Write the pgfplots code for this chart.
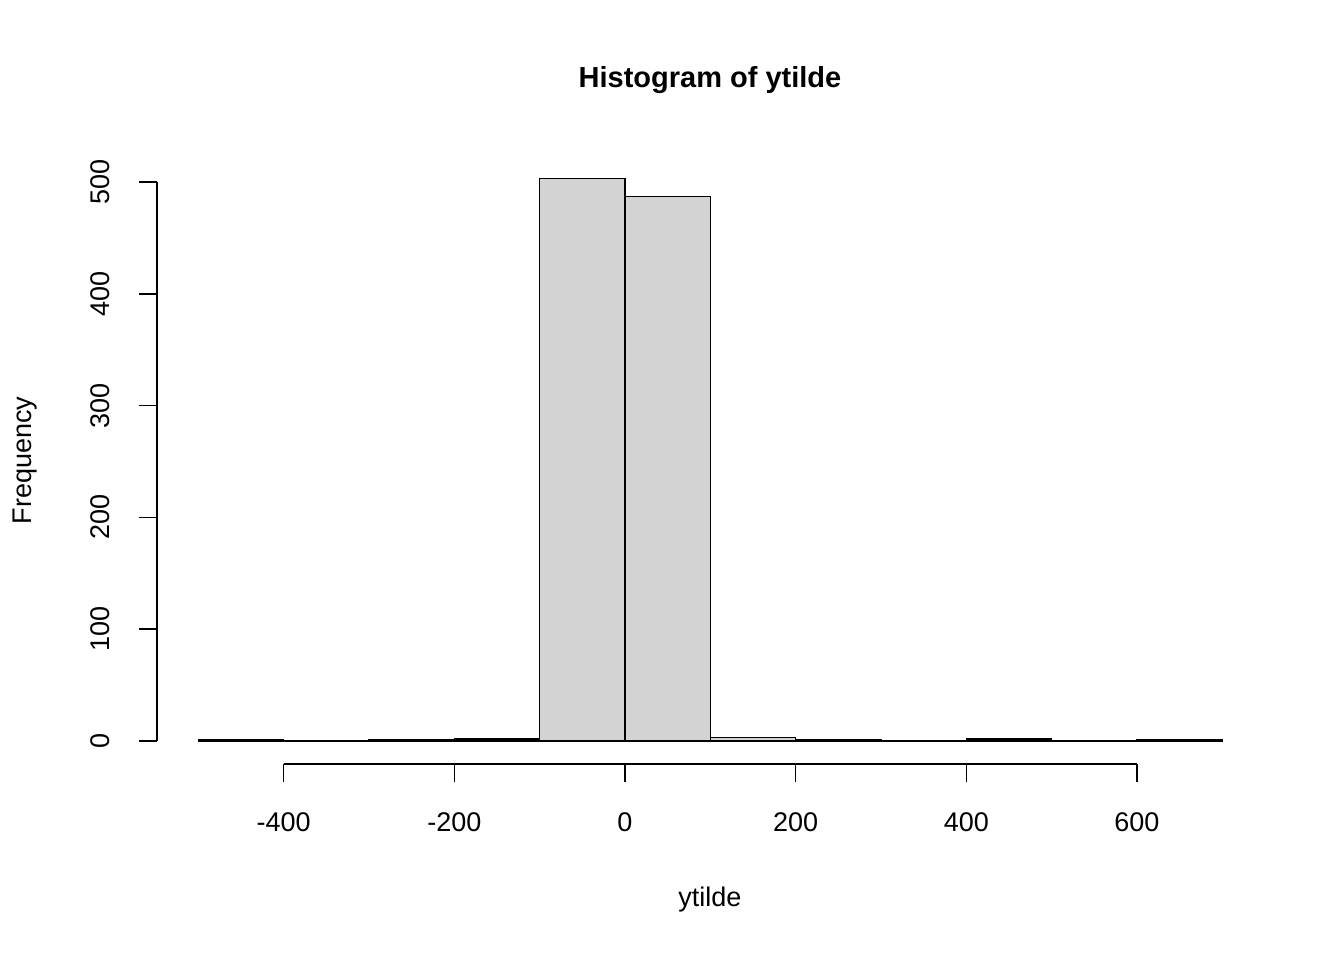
\documentclass[border=0pt]{standalone}
\usepackage{pgfplots}
\pgfplotsset{compat=1.18}
\usepackage{fontspec}
\setmainfont{Liberation Sans}
\definecolor{bargray}{RGB}{211,211,211}
\begin{document}
\begin{tikzpicture}
\begin{axis}[scale only axis, width=672pt, height=480pt,
  xmin=-732.4, xmax=842.6, ymin=-195.9, ymax=662.8,
  axis lines=none, clip=false, font=\fontsize{13.5}{16}\selectfont]
\path (axis cs:-732.4,-195.9) rectangle (axis cs:842.6,662.8);
\addplot[ybar interval, fill=bargray, draw=black, line width=0.75pt] coordinates {
(-500,1)(-400,0)(-300,1)(-200,2)(-100,503)(0,487)(100,3)(200,1)(300,0)(400,2)(500,0)(600,1)(700,1)};
% x axis
\addplot[black, line width=0.75pt] coordinates {(-400,-20.6)(600,-20.6)};
\foreach \t in {-400,-200,0,200,400,600}{
  \edef\tmp{\noexpand\addplot[black, line width=0.75pt] coordinates {(\t,-20.6)(\t,-36.7)};
  \noexpand\node at (axis cs:\t,-73) {\t};}
  \tmp
}
% y axis
\addplot[black, line width=0.75pt] coordinates {(-548.4,0)(-548.4,500)};
\foreach \t in {0,100,200,300,400,500}{
  \edef\tmp{\noexpand\addplot[black, line width=0.75pt] coordinates {(-548.4,\t)(-569.5,\t)};
  \noexpand\node[rotate=90] at (axis cs:-615,\t) {\t};}
  \tmp
}
\node at (axis cs:99.6,591) {\bfseries\fontsize{14.5}{17}\selectfont Histogram of ytilde};
\node at (axis cs:99.6,-142) {ytilde};
\node[rotate=90] at (axis cs:-703,251) {Frequency};
\end{axis}
\end{tikzpicture}
\end{document}
